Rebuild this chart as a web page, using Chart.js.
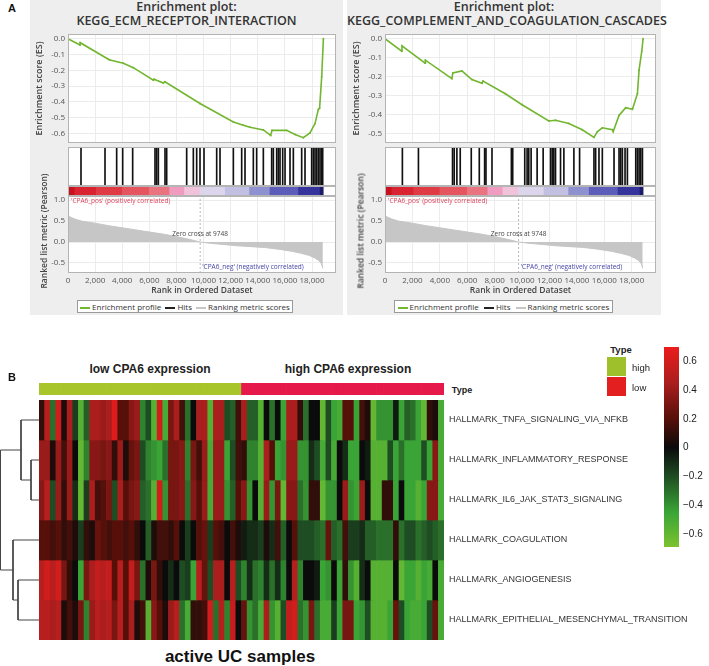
<!DOCTYPE html>
<html>
<head>
<meta charset="utf-8">
<script src="https://cdn.jsdelivr.net/npm/chart.js@4.4.1/dist/chart.umd.min.js"></script>
<style>
	body { margin: 0; width: 709px; height: 666px; position: relative; overflow: hidden; background: #fff; font-family: "Liberation Sans", Arial, sans-serif; }
	.gsea-bg { position: absolute; background: #eeeeee; }
	.gsea-title { position: absolute; text-align: center; font: 600 12.5px "Open Sans", sans-serif; line-height: 14px; color: #333; }
	.gsea-legend { position: absolute; box-sizing: border-box; border: 1px solid #9a9a9a; background: #fff; display: flex; justify-content: space-around; align-items: center; font: 8px "Open Sans", sans-serif; color: #333; }
	.gsea-legend span.sw { display: inline-block; width: 10px; height: 1.5px; vertical-align: middle; margin-right: 2px; }
</style>
</head>
<body>
<script>
// ---- panel A: GSEA ----
const rankMax = 19770;
const zeroCross = 9748;
const rankTicks = [0, 2000, 4000, 6000, 8000, 10000, 12000, 14000, 16000, 18000];
const metricTicks = [1.0, 0.5, 0.0, -0.5];
const metricRanks = [0, 150, 500, 1000, 2000, 3000, 4000, 5000, 6000, 7000, 8000, 9000, 9748, 10500, 11500, 12500, 13500, 14500, 15500, 16500, 17200, 17800, 18200, 18500, 18700, 18800];
const metricValues = [0.65, 0.6, 0.55, 0.5, 0.45, 0.39, 0.34, 0.29, 0.24, 0.19, 0.13, 0.06, 0, -0.03, -0.06, -0.09, -0.11, -0.13, -0.17, -0.22, -0.27, -0.32, -0.38, -0.44, -0.52, -0.63];
const bandEdges = [0, 500, 2100, 4000, 6000, 7500, 8600, 9748, 11600, 13400, 14900, 17000, 18600, 18830];
const bandColors = ['#c8101e', '#d92330', '#e03a45', '#e4555f', '#e97480', '#ef9cc0', '#f1c3da', '#dcd6ec', '#c2c0e2', '#8f90cf', '#5b5db8', '#34349c', '#1c1c66'];

const ecmTitle = 'KEGG_ECM_RECEPTOR_INTERACTION';
const ecmRanks = [0, 885, 900, 2975, 3100, 4080, 4820, 6295, 6350, 7033, 7150, 9738, 12200, 12930, 13430, 14410, 14950, 15050, 16130, 16750, 17360, 17850, 18220, 18470, 18560, 18715, 18840];
const ecmValues = [0, -0.04, -0.025, -0.13, -0.135, -0.155, -0.183, -0.262, -0.256, -0.28, -0.272, -0.41, -0.527, -0.547, -0.56, -0.577, -0.612, -0.58, -0.58, -0.606, -0.626, -0.596, -0.537, -0.447, -0.44, -0.24, 0];
const ecmHits = [959, 2730, 3590, 4033, 4770, 6418, 6541, 6664, 7156, 7279, 8754, 9246, 9492, 9738, 10033, 10968, 11213, 12197, 12812, 13058, 13672, 13918, 14410, 15025, 15148, 15394, 15517, 15640, 15837, 16010, 16377, 16623, 17238, 17484, 17976, 18099, 18222, 18345, 18468, 18591, 18714, 18788];
const ecmTicks = [0, -0.1, -0.2, -0.3, -0.4, -0.5, -0.6];

const compTitle = 'KEGG_COMPLEMENT_AND_COAGULATION_CASCADES';
const compRanks = [0, 1220, 1240, 2927, 2950, 4878, 4950, 5610, 6340, 7075, 7150, 8780, 10000, 11950, 12440, 13415, 14390, 15245, 15500, 15855, 16590, 16650, 17070, 17560, 18050, 18415, 18535, 18730, 18830];
const compValues = [0, -0.066, -0.038, -0.129, -0.113, -0.21, -0.18, -0.17, -0.215, -0.235, -0.223, -0.29, -0.348, -0.434, -0.43, -0.447, -0.48, -0.52, -0.49, -0.47, -0.48, -0.49, -0.405, -0.364, -0.372, -0.29, -0.166, -0.066, 0];
const compHits = [1268, 2439, 4927, 5049, 5244, 5488, 6293, 6878, 7268, 7366, 7805, 9220, 9317, 10195, 10366, 10488, 10659, 11098, 11537, 12073, 12195, 12317, 12439, 12805, 13049, 13780, 14195, 15244, 15366, 15610, 15854, 16708, 17073, 17195, 17317, 17512, 17683, 18293, 18415, 18537, 18659, 18781];
const compTicks = [0, -0.1, -0.2, -0.3, -0.4, -0.5];

// ---- panel B: heatmap ----
const rowNames = ['HALLMARK_TNFA_SIGNALING_VIA_NFKB', 'HALLMARK_INFLAMMATORY_RESPONSE', 'HALLMARK_IL6_JAK_STAT3_SIGNALING', 'HALLMARK_COAGULATION', 'HALLMARK_ANGIOGENESIS', 'HALLMARK_EPITHELIAL_MESENCHYMAL_TRANSITION'];
const heatTNFA = [0.1, 0.5, -0.3, 0.6, 0.05, 0.45, -0.15, -0.55, -0.25, 0.45, 0.45, 0.4, 0.45, 0.65, 0.2, 0.2, 0.35, 0.4, -0.35, -0.2, -0.55, 0.6, -0.5, 0.3,
	0.45, 0.15, -0.3, 0.0, 0.45, 0.45, -0.55, 0.45, 0.45, -0.2, -0.25, 0.15, 0.45, -0.25, -0.25, -0.55, 0.0, -0.3, 0.0, -0.45, 0.45, 0.45, 0.1, -0.3,
	0.0, 0.0, -0.6, -0.2, -0.45, -0.5, 0.2, 0.2, -0.45, 0.15, 0.05, -0.6, -0.4, -0.4, -0.4, -0.05, -0.45, -0.25, -0.3, -0.45, -0.6, 0.1, 0.05, -0.5];
const heatInflam = [0.4, 0.4, 0.05, 0.4, 0.15, 0.4, 0.0, -0.6, -0.35, 0.35, 0.35, 0.3, 0.35, 0.1, 0.4, 0.05, 0.25, 0.3, -0.2, -0.35, -0.4, -0.45, -0.3, 0.3,
	0.3, 0.35, -0.35, 0.3, 0.15, 0.4, -0.5, 0.4, 0.4, -0.45, -0.2, 0.15, 0.1, -0.35, -0.35, -0.55, 0.45, 0.2, -0.45, -0.4, 0.4, 0.4, -0.4, -0.4,
	-0.1, -0.2, -0.5, -0.2, -0.5, 0.0, -0.1, -0.45, -0.45, 0.0, -0.05, -0.55, -0.55, -0.55, -0.2, -0.45, -0.3, -0.45, -0.45, -0.45, -0.2, -0.45, 0.35, -0.5];
const heatIL6 = [0.35, 0.5, -0.2, 0.4, 0.1, 0.4, -0.1, -0.6, -0.15, 0.45, 0.15, 0.2, 0.3, -0.2, 0.45, 0.2, 0.3, 0.35, -0.25, -0.3, -0.55, 0.6, -0.4, 0.3,
	0.3, 0.35, -0.3, 0.35, 0.2, 0.4, -0.5, 0.4, 0.4, -0.4, -0.25, 0.2, 0.35, -0.4, 0.0, -0.55, 0.4, -0.4, 0.3, -0.6, 0.35, 0.35, -0.3, -0.4,
	0.1, 0.1, -0.6, -0.4, -0.4, 0.0, 0.4, -0.4, -0.45, 0.4, 0.0, -0.55, -0.55, 0.1, 0.1, -0.45, 0.0, -0.45, -0.45, -0.55, -0.45, 0.35, 0.35, -0.5];
const heatCoag = [0.2, 0.2, 0.15, 0.2, 0.1, 0.15, 0.05, -0.15, 0.1, 0.05, 0.25, 0.2, 0.15, 0.2, 0.2, 0.15, 0.2, 0.1, 0.0, -0.25, 0.05, 0.15, 0.15, 0.1,
	0.2, 0.0, -0.15, 0.0, 0.2, 0.25, -0.15, 0.2, 0.15, 0.0, 0.15, 0.05, -0.05, -0.1, -0.1, -0.15, 0.05, -0.1, 0.15, -0.25, 0.0, 0.2, -0.2, -0.2,
	-0.2, -0.25, -0.3, 0.25, -0.25, -0.3, 0.15, -0.15, -0.15, -0.1, -0.25, -0.25, -0.3, -0.3, -0.3, 0.1, -0.3, -0.2, -0.2, -0.3, -0.25, -0.2, -0.25, -0.3];
const heatAngio = [0.5, 0.6, 0.5, 0.6, 0.3, 0.1, 0.0, -0.45, 0.3, 0.45, 0.55, 0.5, 0.55, 0.2, 0.5, 0.2, 0.55, 0.3, -0.3, 0.05, 0.3, 0.1, 0.0, -0.1,
	0.0, -0.2, -0.15, -0.45, 0.5, 0.25, -0.2, 0.45, 0.45, 0.0, 0.5, -0.2, -0.35, -0.1, -0.3, -0.35, -0.1, -0.3, -0.1, -0.35, 0.0, 0.5, -0.35, 0.0,
	0.0, -0.05, -0.45, -0.4, 0.0, -0.45, 0.1, -0.4, -0.55, -0.1, 0.0, -0.55, -0.55, -0.55, -0.55, 0.0, -0.6, -0.45, -0.45, -0.55, -0.45, -0.5, 0.0, -0.5];
const heatEMT = [0.5, 0.5, 0.45, 0.5, 0.05, 0.15, 0.05, 0.3, -0.35, 0.4, 0.5, 0.45, 0.5, 0.3, 0.5, 0.2, 0.45, 0.05, 0.15, -0.55, 0.35, 0.2, 0.05, 0.4,
	0.5, -0.3, -0.5, 0.1, 0.1, 0.15, 0.6, -0.3, 0.5, -0.35, 0.55, 0.0, 0.25, -0.4, -0.3, -0.5, 0.45, -0.4, -0.55, -0.2, 0.55, 0.6, -0.3, -0.4,
	0.3, -0.3, -0.5, -0.5, -0.15, -0.45, 0.3, 0.3, -0.45, -0.4, -0.2, -0.55, -0.55, -0.55, -0.45, 0.25, -0.2, -0.45, -0.5, -0.5, -0.45, -0.2, 0.25, -0.5];
const heatRows = [heatTNFA, heatInflam, heatIL6, heatCoag, heatAngio, heatEMT];

const groupNames = ['low CPA6 expression', 'high CPA6 expression'];
const groupSizes = [36, 36];
const groupTypes = ['high', 'low'];
const typeColors = { high: '#a8c52c', low: '#e5194a' };
const legendColors = { high: '#9dc02b', low: '#e31f1f' };

const heatMin = -0.69, heatMax = 0.70;
const heatTicks = [0.6, 0.4, 0.2, 0, -0.2, -0.4, -0.6];
const heatStops = [[-0.69, '#7cc22f'], [-0.45, '#3aa536'], [-0.2, '#1f4d23'], [0, '#0b0b0b'], [0.2, '#561009'], [0.45, '#aa1e1e'], [0.70, '#ec1c1c']];

// dendrogram: [nodeA, nodeB, height]; leaves are 0..5, merges get ids 6..
const dendroMerges = [[1, 2, 0.8], [0, 6, 1.8], [4, 5, 2.1], [3, 8, 2.6], [7, 9, 3.85]];
const dendroMax = 3.9;

Chart.defaults.animation = false;
Chart.defaults.responsive = true;
Chart.defaults.maintainAspectRatio = false;
Chart.defaults.plugins.legend.display = false;
Chart.defaults.plugins.tooltip.enabled = false;

function box(x, y, w, h) {
	const d = document.createElement('div');
	d.style.cssText = `position:absolute;left:${x}px;top:${y}px;width:${w}px;height:${h}px;`;
	const c = document.createElement('canvas');
	d.appendChild(c);
	document.body.appendChild(d);
	return c;
}

function text(str, x, y, css) {
	const d = document.createElement('div');
	d.textContent = str;
	d.style.cssText = `position:absolute;left:${x}px;top:${y}px;white-space:nowrap;line-height:1;transform:translate(-50%,-50%);` + (css || '');
	document.body.appendChild(d);
	return d;
}

// fix axis size so plot areas line up
const fit = size => s => {
	if (s.isHorizontal()) s.height = size; else s.width = size;
	s.paddingLeft = s.paddingRight = s.paddingTop = s.paddingBottom = 0;
};
const setTicks = list => s => { s.ticks = list.map(v => ({ value: v })); };
const fmt1 = v => Math.abs(v) < 1e-9 ? '0.0' : v.toFixed(1);

const framePlugin = {
	id: 'frame',
	beforeDraw(chart) {
		const a = chart.chartArea;
		chart.ctx.save();
		chart.ctx.fillStyle = '#fff';
		chart.ctx.fillRect(a.left, a.top, a.width, a.height);
		chart.ctx.restore();
	},
	afterDraw(chart) {
		const a = chart.chartArea;
		const ctx = chart.ctx;
		ctx.save();
		ctx.strokeStyle = '#b4b4b4';
		ctx.lineWidth = 1;
		ctx.strokeRect(a.left + 0.5, a.top + 0.5, a.width - 1, a.height - 1);
		ctx.restore();
	}
};

const metricText = {
	id: 'metricText',
	afterDatasetsDraw(chart) {
		const { ctx, chartArea, scales: { x, y } } = chart;
		ctx.save();
		ctx.font = '6.5px "Open Sans", sans-serif';
		ctx.textBaseline = 'middle';
		ctx.fillStyle = '#e0405a';
		ctx.textAlign = 'left';
		ctx.fillText("'CPA6_pos' (positively correlated)", chartArea.left + 3, y.getPixelForValue(1.0) + 1);
		ctx.fillStyle = '#444';
		ctx.textAlign = 'center';
		ctx.fillText('Zero cross at ' + zeroCross, x.getPixelForValue(zeroCross), y.getPixelForValue(0.19));
		ctx.fillStyle = '#4444a8';
		ctx.textAlign = 'left';
		ctx.fillText("'CPA6_neg' (negatively correlated)", x.getPixelForValue(zeroCross) + 2, y.getPixelForValue(-0.6));
		ctx.restore();
	}
};

function gseaPanel(left, width, plotLeft, plotRight, title, ranks, values, hits, esTicks, esMin, esMax) {
	const bg = document.createElement('div');
	bg.className = 'gsea-bg';
	bg.style.cssText = `left:${left}px;top:0;width:${width}px;height:315px;`;
	document.body.appendChild(bg);

	const t = document.createElement('div');
	t.className = 'gsea-title';
	t.style.cssText = `left:${left}px;top:0;width:${width}px;`;
	t.innerHTML = 'Enrichment plot:<br>' + title;
	document.body.appendChild(t);

	const axisW = plotLeft - left;
	const padR = left + width - plotRight;
	const tickFont = { family: '"Open Sans", sans-serif', size: 8 };
	const titleFont = { family: '"Open Sans", sans-serif', size: 9, weight: '600' };

	// enrichment score
	new Chart(box(left, 30, width, 117), {
		type: 'line',
		data: {
			datasets: [{
				data: ranks.map((r, i) => ({ x: r, y: values[i] })),
				borderColor: '#72b62f',
				backgroundColor: '#72b62f',
				borderWidth: 1.6,
				pointRadius: 0.9,
				pointBorderWidth: 0
			}]
		},
		options: {
			layout: { padding: { top: 2, right: padR, left: 0, bottom: 0 } },
			scales: {
				x: { type: 'linear', min: 0, max: rankMax, afterBuildTicks: setTicks(rankTicks), afterFit: fit(0),
					ticks: { display: false }, grid: { color: '#ececec', drawTicks: false }, border: { display: false } },
				y: { min: esMin, max: esMax, afterBuildTicks: setTicks(esTicks), afterFit: fit(axisW),
					ticks: { font: tickFont, color: '#555', padding: 3, callback: fmt1 },
					grid: { color: '#ececec', drawTicks: false }, border: { display: false },
					title: { display: true, text: 'Enrichment score (ES)', font: titleFont, color: '#444', padding: { top: 4, bottom: 0 } } }
			}
		},
		plugins: [framePlugin]
	});

	// hits
	new Chart(box(plotLeft, 147, plotRight - plotLeft, 39), {
		type: 'bar',
		data: { datasets: [{ data: hits.map(r => ({ x: r, y: [0, 1] })), backgroundColor: '#111', barThickness: 1 }] },
		options: {
			layout: { padding: 0 },
			scales: {
				x: { type: 'linear', min: 0, max: rankMax, offset: false, display: false },
				y: { min: 0, max: 1, display: false }
			}
		},
		plugins: [framePlugin]
	});

	// ranked list colour bar
	new Chart(box(plotLeft, 186, plotRight - plotLeft, 10), {
		type: 'bar',
		data: {
			labels: ['rank'],
			datasets: [{
				data: bandColors.map((c, i) => ({ x: [bandEdges[i], bandEdges[i + 1]], y: 'rank' })),
				backgroundColor: bandColors,
				barPercentage: 1,
				categoryPercentage: 1,
				borderWidth: 0
			}]
		},
		options: {
			indexAxis: 'y',
			layout: { padding: 0 },
			scales: {
				x: { type: 'linear', min: 0, max: rankMax, display: false },
				y: { type: 'category', display: false }
			}
		},
		plugins: [framePlugin]
	});

	// ranked list metric
	new Chart(box(left, 196, width, 104), {
		type: 'line',
		data: {
			datasets: [{
				data: metricRanks.map((r, i) => ({ x: r, y: metricValues[i] })),
				borderColor: '#c6c6c6',
				backgroundColor: '#c6c6c6',
				borderWidth: 1,
				pointRadius: 0,
				fill: 'origin'
			}, {
				data: [{ x: zeroCross, y: -0.74 }, { x: zeroCross, y: 1.1 }],
				borderColor: '#a8a8a8',
				borderWidth: 0.8,
				borderDash: [2, 2],
				pointRadius: 0
			}]
		},
		options: {
			layout: { padding: { top: 0, right: padR, left: 0, bottom: 0 } },
			scales: {
				x: { type: 'linear', min: 0, max: rankMax, afterBuildTicks: setTicks(rankTicks), afterFit: fit(27),
					ticks: { font: tickFont, color: '#555', padding: 3, maxRotation: 0, autoSkip: false, callback: v => v.toLocaleString('en-US') },
					grid: { color: '#ececec', drawTicks: false }, border: { display: false },
					title: { display: true, text: 'Rank in Ordered Dataset', font: { family: '"Open Sans", sans-serif', size: 8.5, weight: '600' }, color: '#444', padding: { top: 0, bottom: 4 } } },
				y: { min: -0.74, max: 1.1, afterBuildTicks: setTicks(metricTicks), afterFit: fit(axisW),
					ticks: { font: tickFont, color: '#555', padding: 3, callback: fmt1 },
					grid: { color: '#ececec', drawTicks: false }, border: { display: false } }
			}
		},
		plugins: [framePlugin, metricText]
	});
	// the axis title is longer than the panel, so it sits outside the canvas
	text('Ranked list metric (Pearson)', left + 12.5, 231, 'font:600 8.5px "Open Sans",sans-serif;color:#444;transform:translate(-50%,-50%) rotate(-90deg);');

	// legend
	const lg = document.createElement('div');
	lg.className = 'gsea-legend';
	lg.style.cssText = `left:${plotLeft + 9}px;top:300px;width:${plotRight - plotLeft - 52}px;height:13px;`;
	lg.innerHTML = '<span><span class="sw" style="background:#72b62f"></span>Enrichment profile</span>' +
		'<span><span class="sw" style="background:#222"></span>Hits</span>' +
		'<span><span class="sw" style="background:#c6c6c6"></span>Ranking metric scores</span>';
	document.body.appendChild(lg);
}

text('A', 12, 8, 'font:bold 11px "Liberation Sans",Arial,sans-serif;color:#111;');
gseaPanel(30, 313, 68, 336, ecmTitle, ecmRanks, ecmValues, ecmHits, ecmTicks, -0.66, 0.03);
gseaPanel(347, 314, 385, 656, compTitle, compRanks, compValues, compHits, compTicks, -0.55, 0.025);

// ---- heatmap ----
function hexRgb(h) { return [1, 3, 5].map(i => parseInt(h.slice(i, i + 2), 16)); }
function heatColor(v) {
	const s = heatStops;
	if (v <= s[0][0]) return s[0][1];
	for (let i = 0; i < s.length - 1; i++) {
		if (v <= s[i + 1][0]) {
			const t = (v - s[i][0]) / (s[i + 1][0] - s[i][0]);
			const a = hexRgb(s[i][1]), b = hexRgb(s[i + 1][1]);
			return 'rgb(' + a.map((c, k) => Math.round(c + (b[k] - c) * t)).join(',') + ')';
		}
	}
	return s[s.length - 1][1];
}

const sampleIds = heatTNFA.map((_, i) => 'S' + (i + 1));
const sampleType = groupTypes.flatMap((t, i) => Array(groupSizes[i]).fill(t));

text('B', 12, 377, 'font:bold 11px "Liberation Sans",Arial,sans-serif;color:#111;');
text(groupNames[0], 150, 369, 'font:bold 12px "Liberation Sans",Arial,sans-serif;color:#222;');
text(groupNames[1], 348, 369, 'font:bold 12px "Liberation Sans",Arial,sans-serif;color:#222;');

// annotation track
new Chart(box(39, 383, 405, 12), {
	type: 'bar',
	data: {
		labels: sampleIds,
		datasets: [{ data: sampleIds.map(() => [0, 1]), backgroundColor: sampleType.map(t => typeColors[t]), barPercentage: 1, categoryPercentage: 1, borderWidth: 0 }]
	},
	options: {
		layout: { padding: 0 },
		scales: { x: { display: false }, y: { min: 0, max: 1, display: false } }
	}
});
text('Type', 462, 390, 'font:bold 9px "Liberation Sans",Arial,sans-serif;color:#222;');

// heatmap cells
new Chart(box(39, 400, 670, 240), {
	type: 'bar',
	data: {
		labels: sampleIds,
		datasets: rowNames.map((name, r) => ({
			label: name,
			data: heatRows[r].map(() => [r, r + 1]),
			backgroundColor: heatRows[r].map(heatColor),
			barPercentage: 1,
			categoryPercentage: 1,
			borderWidth: 0,
			grouped: false
		}))
	},
	options: {
		layout: { padding: 0 },
		scales: {
			x: { display: false },
			y: { type: 'linear', min: 0, max: 6, reverse: true, position: 'right',
				afterBuildTicks: setTicks(rowNames.map((_, i) => i + 0.5)), afterFit: fit(265),
				ticks: { font: { family: '"Liberation Sans", Arial, sans-serif', size: 9 }, color: '#333', padding: 5, callback: v => rowNames[Math.floor(v)] },
				grid: { display: false, drawTicks: false }, border: { display: false } }
		}
	}
});

// dendrogram
const nodeY = rowNames.map((_, i) => i + 0.5);
const nodeH = rowNames.map(() => 0);
const dendroSets = dendroMerges.map(([a, b, h]) => {
	const seg = [{ x: nodeH[a], y: nodeY[a] }, { x: h, y: nodeY[a] }, { x: h, y: nodeY[b] }, { x: nodeH[b], y: nodeY[b] }];
	nodeY.push((nodeY[a] + nodeY[b]) / 2);
	nodeH.push(h);
	return { data: seg, borderColor: '#444', borderWidth: 1, pointRadius: 0, showLine: true, clip: false };
});
new Chart(box(0, 400, 39, 240), {
	type: 'scatter',
	data: { datasets: dendroSets },
	options: {
		layout: { padding: 0 },
		scales: {
			x: { min: 0, max: dendroMax, reverse: true, display: false },
			y: { min: 0, max: 6, reverse: true, display: false }
		}
	}
});

// colour key
new Chart(box(664, 340, 45, 215), {
	type: 'bar',
	data: {
		labels: ['key'],
		datasets: [{
			data: [[heatMin, heatMax]],
			barPercentage: 1,
			categoryPercentage: 1,
			borderWidth: 0,
			backgroundColor: ctx => {
				const { chart } = ctx;
				if (!chart.chartArea) return '#000';
				const y = chart.scales.y;
				const g = chart.ctx.createLinearGradient(0, y.getPixelForValue(heatMin), 0, y.getPixelForValue(heatMax));
				heatStops.forEach(([v, c]) => g.addColorStop(Math.min(1, Math.max(0, (v - heatMin) / (heatMax - heatMin))), c));
				return g;
			}
		}]
	},
	options: {
		layout: { padding: { top: 7, bottom: 8, left: 0, right: 0 } },
		scales: {
			x: { display: false },
			y: { min: heatMin, max: heatMax, position: 'right', afterBuildTicks: setTicks(heatTicks), afterFit: fit(30),
				ticks: { font: { family: '"Liberation Sans", Arial, sans-serif', size: 10 }, color: '#222', padding: 4,
					callback: v => Math.abs(v) < 1e-9 ? '0' : (v < 0 ? '\u2212' + Math.abs(v).toFixed(1) : v.toFixed(1)) },
				grid: { display: false, drawTicks: false }, border: { display: false } }
		}
	}
});

// type legend
text('Type', 621, 349, 'font:bold 9.5px "Liberation Sans",Arial,sans-serif;color:#222;');
[['high', 357], ['low', 377]].forEach(([t, y]) => {
	const sq = document.createElement('div');
	sq.style.cssText = `position:absolute;left:607px;top:${y}px;width:19px;height:19px;background:${legendColors[t]};`;
	document.body.appendChild(sq);
	const l = text(t, 632, y + 10, 'font:9.5px "Liberation Sans",Arial,sans-serif;color:#222;');
	l.style.transform = 'translate(0,-50%)';
});

text('active UC samples', 240, 657, 'font:bold 17px "Liberation Sans",Arial,sans-serif;color:#111;');
</script>
</body>
</html>
